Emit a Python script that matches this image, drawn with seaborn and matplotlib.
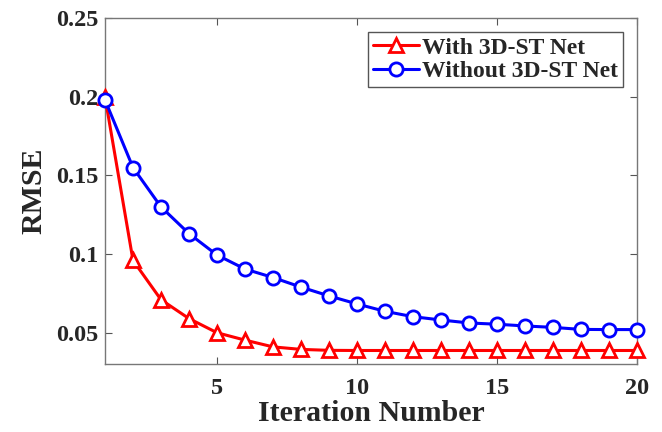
import numpy as np
import matplotlib
matplotlib.use('Agg')
import matplotlib.pyplot as plt
import seaborn as sns
import pandas as pd

iterations = list(range(1, 21))
with_net = [0.200, 0.096, 0.071, 0.059, 0.050, 0.0453, 0.041, 0.0394, 0.0388, 0.0387,
            0.0387, 0.0387, 0.0387, 0.0387, 0.0387, 0.0387, 0.0387, 0.0387, 0.0387, 0.0387]
without_net = [0.198, 0.155, 0.130, 0.113, 0.0994, 0.0905, 0.0851, 0.079, 0.0734, 0.0683,
               0.0636, 0.0602, 0.0581, 0.0562, 0.0554, 0.0543, 0.0534, 0.0521, 0.052, 0.052]
labels = ['With 3D-ST Net', 'Without 3D-ST Net']
colors = ['#ff0000', '#0000ff']
markers = ['^', 'o']

sns.set_style('ticks')
plt.rcParams['font.family'] = ['Liberation Serif', 'DejaVu Serif']
plt.rcParams['font.weight'] = 'bold'
plt.rcParams['axes.labelweight'] = 'bold'

fig = plt.figure(figsize=(6.62, 4.32), dpi=100)
ax = fig.add_axes([0.1586, 0.157, 0.8036, 0.801])

for vals, lab, c, m in zip([with_net, without_net], labels, colors, markers):
    sns.lineplot(x=iterations, y=vals, label=lab, color=c, marker=m,
                 linewidth=2.2, markersize=9.5, markeredgewidth=2,
                 markerfacecolor='white', markeredgecolor=c, clip_on=False,
                 zorder=3, ax=ax)

ax.set_xlim(1, 20)
ax.set_ylim(0.03, 0.25)
ax.set_xticks([5, 10, 15, 20])
ax.set_yticks([0.05, 0.1, 0.15, 0.2, 0.25])
ax.set_yticklabels(['0.05', '0.1', '0.15', '0.2', '0.25'])
ax.tick_params(direction='in', top=True, right=True, labelsize=17.5, color='#555555',
               length=5, width=0.8)
ax.tick_params(axis='x', pad=10)
ax.tick_params(axis='y', pad=5)
for lbl in ax.get_xticklabels() + ax.get_yticklabels():
    lbl.set_fontweight('bold')
for s in ax.spines.values():
    s.set_visible(True)
    s.set_color('#777777')
    s.set_linewidth(1.0)

ax.set_xlabel('Iteration Number', fontsize=21.5, fontweight='bold', labelpad=1)
ax.set_ylabel('RMSE', fontsize=21.5, fontweight='bold', labelpad=6)

leg = ax.legend(loc='upper right', fontsize=17, frameon=True, fancybox=False,
                handlelength=1.95, borderpad=0.2, labelspacing=0.1, handletextpad=0.15,
                borderaxespad=0.6)
leg.get_frame().set_edgecolor('#555555')
leg.get_frame().set_linewidth(1.0)
leg.get_frame().set_alpha(1)
for t in leg.get_texts():
    t.set_fontweight('bold')

fig.savefig('out.png', dpi=100)
